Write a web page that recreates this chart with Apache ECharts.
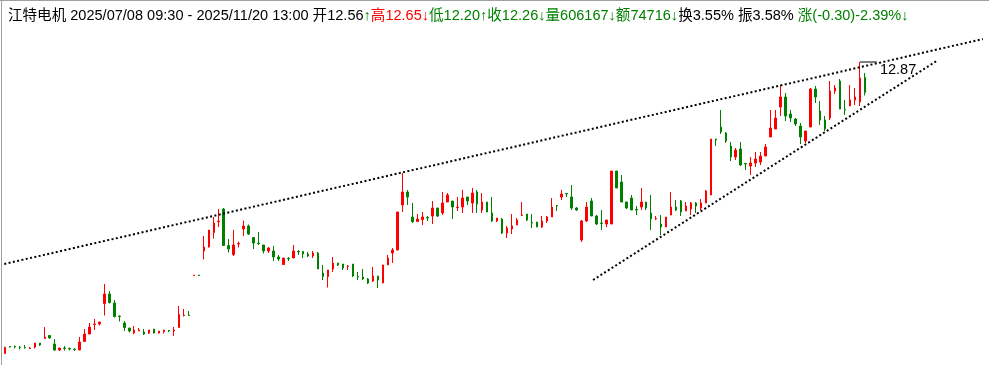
<!DOCTYPE html>
<html><head><meta charset="utf-8">
<script src="https://cdn.jsdelivr.net/npm/echarts@6/dist/echarts.min.js"></script>
<style>html,body{margin:0;padding:0;background:#fff}#c{width:989px;height:365px}</style>
</head><body><div id="c"></div>
<script>
// 江特电机 120-minute bars, 2025/07/08 09:30 - 2025/11/20 13:00
const opens = [
7.04,7.18,7.18,7.17,7.16,7.14,7.17,7.25,7.34,7.40,7.23,7.11,7.15,7.14,7.13,7.11,7.28,7.43,7.62,7.63,
8.04,8.23,8.05,7.79,7.65,7.55,7.45,7.49,7.47,7.45,7.53,7.45,7.48,7.50,7.49,7.56,7.80,7.81,8.60,8.61,
9.09,9.17,9.46,9.68,9.93,9.20,9.02,9.23,9.53,9.59,9.36,9.25,9.21,9.09,9.09,8.97,8.82,8.94,8.95,9.08,
9.08,9.03,8.99,9.05,8.65,8.58,8.73,8.85,8.83,8.78,8.83,8.58,8.57,8.53,8.49,8.59,8.45,8.81,9.05,9.11,
10.01,10.27,9.77,9.68,9.72,9.76,9.79,9.95,9.85,10.07,10.09,9.96,9.97,10.17,10.05,10.27,9.91,10.07,9.85,9.69,
9.73,9.45,9.53,9.61,9.80,9.83,9.66,9.67,9.57,9.69,9.77,10.00,10.17,10.24,10.17,9.95,9.31,9.69,10.09,9.79,
9.65,9.63,9.63,10.69,10.47,10.07,10.15,9.92,9.97,10.07,9.85,9.73,9.63,9.57,9.81,9.97,10.09,9.89,9.93,10.05,
9.95,10.05,10.21,11.33,11.57,11.45,11.19,10.97,11.13,10.84,10.79,10.85,10.87,10.99,11.37,11.53,11.97,12.17,11.83,11.73,
11.59,11.29,11.57,12.33,11.89,11.71,11.75,12.29,12.49,11.92,11.99,12.11,12.07,12.56];
const closes = [
7.16,7.17,7.17,7.16,7.15,7.15,7.25,7.21,7.37,7.35,7.11,7.15,7.14,7.13,7.12,7.27,7.43,7.57,7.63,7.67,
8.23,8.06,7.78,7.78,7.56,7.49,7.51,7.51,7.43,7.51,7.45,7.49,7.51,7.49,7.51,7.82,7.81,7.80,8.61,8.60,
9.17,9.51,9.65,9.69,9.20,9.13,9.21,9.24,9.59,9.43,9.25,9.24,9.09,9.15,8.97,8.93,8.95,8.93,9.09,9.07,
9.03,8.99,9.05,8.73,8.58,8.71,8.85,8.81,8.75,8.79,8.59,8.57,8.53,8.45,8.59,8.51,8.81,8.95,9.11,9.87,
10.27,10.17,9.68,9.73,9.77,9.75,9.95,9.79,10.05,10.21,9.97,9.97,10.15,10.09,10.25,10.03,10.07,9.87,9.69,9.75,
9.45,9.55,9.59,9.71,9.81,9.71,9.65,9.57,9.69,9.77,9.97,9.99,10.23,10.23,9.95,9.91,9.69,9.97,9.79,9.63,
9.64,9.71,10.69,10.35,10.07,9.95,9.91,9.91,10.07,9.95,9.73,9.74,9.57,9.77,9.97,9.91,9.87,9.99,10.05,9.99,
10.05,10.29,11.33,11.31,11.47,11.29,10.97,11.11,10.81,10.83,10.85,10.93,10.99,11.17,11.55,11.75,12.17,11.79,11.75,11.63,
11.37,11.49,12.33,12.17,11.71,11.53,12.29,12.35,11.93,11.91,12.11,12.17,12.55,12.26];
const lows = [
7.04,7.16,7.14,7.12,7.14,7.14,7.14,7.19,7.34,7.34,7.09,7.09,7.10,7.10,7.09,7.11,7.28,7.43,7.51,7.60,
7.80,8.04,7.76,7.68,7.49,7.46,7.43,7.49,7.41,7.43,7.44,7.44,7.44,7.47,7.39,7.56,7.78,7.80,8.60,8.60,
8.92,9.16,9.34,9.57,9.20,9.06,8.99,9.16,9.39,9.41,9.13,9.21,9.04,9.05,8.89,8.89,8.82,8.89,8.95,9.01,
8.95,8.97,8.95,8.73,8.51,8.36,8.67,8.79,8.71,8.71,8.57,8.51,8.51,8.43,8.47,8.35,8.45,8.81,8.85,9.11,
9.87,10.01,9.65,9.67,9.61,9.69,9.63,9.77,9.81,10.07,9.73,9.89,9.85,10.01,9.85,9.85,9.85,9.87,9.67,9.67,
9.43,9.35,9.43,9.61,9.79,9.69,9.55,9.57,9.55,9.65,9.77,9.89,10.11,10.17,9.91,9.89,9.27,9.67,9.79,9.61,
9.51,9.57,9.63,10.35,10.07,9.93,9.91,9.81,9.91,9.91,9.51,9.71,9.41,9.57,9.81,9.89,9.79,9.89,9.81,9.85,
9.91,10.05,10.21,11.19,11.43,11.25,10.89,10.91,10.79,10.71,10.61,10.77,10.81,10.99,11.37,11.53,11.79,11.69,11.67,11.59,
11.23,11.25,11.57,12.05,11.61,11.49,11.71,12.23,11.93,11.81,11.99,12.01,11.99,12.20];
const highs = [
7.18,7.19,7.20,7.19,7.21,7.17,7.25,7.25,7.57,7.41,7.33,7.15,7.19,7.16,7.14,7.37,7.53,7.65,7.73,7.67,
8.43,8.29,8.11,7.80,7.69,7.55,7.59,7.55,7.53,7.51,7.53,7.49,7.51,7.51,7.57,7.99,7.93,7.89,8.61,8.61,
9.39,9.51,9.77,9.93,9.95,9.33,9.51,9.28,9.70,9.62,9.36,9.47,9.21,9.17,9.19,9.01,8.95,8.97,9.21,9.11,
9.09,9.07,9.09,9.07,8.81,8.71,8.97,8.85,8.83,8.81,8.83,8.67,8.73,8.55,8.77,8.59,8.81,9.01,9.15,9.87,
10.65,10.31,10.05,9.83,9.87,9.79,10.09,9.95,10.27,10.25,10.09,10.17,10.31,10.17,10.35,10.31,10.25,10.07,10.17,9.75,
9.75,9.59,9.83,9.75,10.07,9.83,9.83,9.67,9.79,9.79,10.15,10.01,10.31,10.24,10.41,9.97,9.71,10.07,10.15,9.81,
9.91,9.71,10.69,10.69,10.61,10.07,10.21,9.99,10.35,10.07,10.21,9.79,9.81,9.77,10.27,10.11,10.11,10.07,10.07,10.07,
10.13,10.31,11.33,11.33,11.91,11.47,11.27,11.15,11.27,10.85,10.97,11.07,11.07,11.23,11.91,11.91,12.41,12.25,11.91,11.75,
11.65,11.49,12.35,12.39,12.09,11.79,12.49,12.41,12.53,12.11,12.41,12.35,12.87,12.65];

const slotCount = 198;           // bar slots on the x axis (incl. empty right margin)
const upperTrend = [[-1.0, 8.81], [196.7, 13.33]];
const lowerTrend = [[118.3, 8.51], [187.4, 12.89]];

const categories = Array.from({length: slotCount}, (_, i) => String(i));
const kdata = opens.map((o, i) => [o, closes[i], lows[i], highs[i]]);
const maxHigh = Math.max(...highs);
const maxIdx = highs.indexOf(maxHigh);

const UP = '#ff0000', DOWN = '#008000';
const chart = echarts.init(document.getElementById('c'), null, {renderer: 'canvas'});
const font = '"Liberation Sans", Arial, "Noto Sans CJK SC", sans-serif';
const fs = 14.55;
chart.setOption({
  animation: false,
  backgroundColor: '#fff',
  title: {
    left: 3, top: 4,
    text: '{k|江特电机 2025/07/08 09:30 - 2025/11/20 13:00 开12.56}{g|↑}{r|高12.65↓}{g|低12.20↑收12.26↓量606167↓额74716↓}{k|换3.55% 振3.58% }{g|涨(-0.30)-2.39%↓}',
    textStyle: {
      fontFamily: font, fontSize: fs, fontWeight: 'normal',
      rich: {
        k: {color: '#000', fontFamily: font, fontSize: fs},
        r: {color: UP, fontFamily: font, fontSize: fs},
        g: {color: DOWN, fontFamily: font, fontSize: fs}
      }
    }
  },
  graphic: [
    {type: 'line', shape: {x1: 1.5, y1: 0, x2: 1.5, y2: 365}, style: {stroke: '#a0a0a0', lineWidth: 1}, z: 100},
    {type: 'line', shape: {x1: 0, y1: 0.5, x2: 989, y2: 0.5}, style: {stroke: '#a0a0a0', lineWidth: 1}, z: 100}
  ],
  grid: {left: 2.5, right: 2.24, top: 0, bottom: 0, containLabel: false},
  xAxis: [
    {type: 'category', data: categories, boundaryGap: true, show: false},
    {type: 'value', min: -0.5, max: slotCount - 0.5, show: false}
  ],
  yAxis: {type: 'value', min: 6.81, max: 14.11, show: false, scale: true},
  series: [
    {
      type: 'candlestick', data: kdata, barWidth: 2,
      itemStyle: {color: UP, color0: DOWN, borderColor: UP, borderColor0: DOWN, borderWidth: 1}
    },
    {
      type: 'line', xAxisIndex: 1, data: upperTrend, clip: false, showSymbol: false, silent: true,
      lineStyle: {color: '#000', width: 2, type: [2, 2.4]}
    },
    {
      type: 'line', xAxisIndex: 1, data: lowerTrend, clip: false, showSymbol: false, silent: true,
      lineStyle: {color: '#000', width: 2, type: [2, 2.4]}
    },
    {
      type: 'line', xAxisIndex: 1, clip: false, silent: true, showSymbol: false,
      lineStyle: {color: '#000', width: 1},
      data: [[maxIdx, maxHigh], [maxIdx + 3.4, maxHigh]],
      endLabel: {show: true, distance: 3, offset: [0, 8], formatter: maxHigh.toFixed(2),
        color: '#000', fontSize: fs, fontFamily: font}
    }
  ]
});
</script>
</body></html>
